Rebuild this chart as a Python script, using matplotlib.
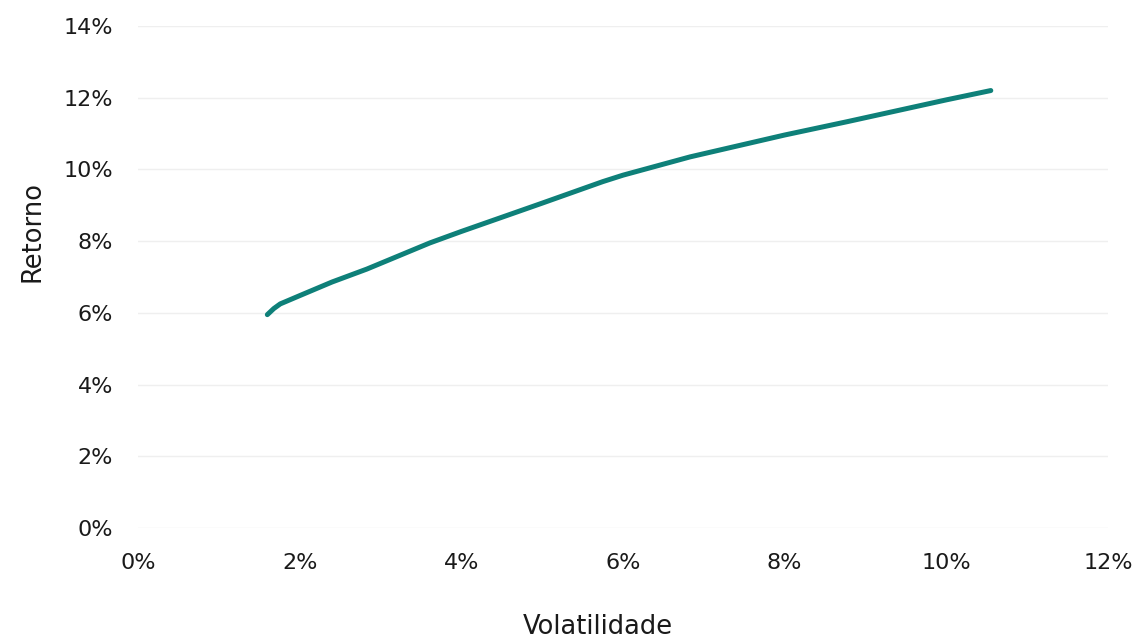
import numpy as np
import matplotlib
matplotlib.use("Agg")
from matplotlib import pyplot as plt
from matplotlib.ticker import FuncFormatter

## data (percent)
volatilidade = [1.60, 1.68, 1.76, 2.00, 2.40, 2.83, 3.61, 4.00, 5.00, 5.75, 6.00, 6.83, 8.00, 8.77, 10.00, 10.55]
retorno = [5.95, 6.12, 6.25, 6.48, 6.86, 7.22, 7.95, 8.27, 9.06, 9.66, 9.84, 10.35, 10.96, 11.33, 11.94, 12.20]

x_ticks = [0, 2, 4, 6, 8, 10, 12]
y_ticks = [0, 2, 4, 6, 8, 10, 12, 14]

line_color = "#0e8079"
grid_color = "#efefef"
text_color = "#1a1a1a"

plt.rcParams["font.family"] = ["DejaVu Sans"]

fig = plt.figure(figsize=(11.35, 6.40), dpi=100)
ax = fig.add_axes([138/1135, 1 - 528/640, (1108-138)/1135, (528-26)/640])

ax.plot(volatilidade, retorno, color=line_color, lw=3.6,
        solid_capstyle="round", solid_joinstyle="round", zorder=3)

ax.set_xlim(0, 12)
ax.set_ylim(0, 14)
ax.set_xticks(x_ticks)
ax.set_yticks(y_ticks)
pct = FuncFormatter(lambda v, p: "%d%%" % v)
ax.xaxis.set_major_formatter(pct)
ax.yaxis.set_major_formatter(pct)

ax.grid(axis="y", color=grid_color, lw=1, zorder=0)
ax.set_axisbelow(True)
for s in ax.spines.values():
  s.set_visible(False)
ax.tick_params(length=0, labelsize=16, labelcolor=text_color)
ax.tick_params(axis="x", pad=18)
ax.tick_params(axis="y", pad=18)

fig.text(598/1135, 1 - 627/640, "Volatilidade", ha="center", va="center",
         fontsize=18.5, color=text_color)
fig.text(32/1135, 1 - 232/640, "Retorno", ha="center", va="center",
         rotation=90, fontsize=18.5, color=text_color)

fig.savefig("out.png", dpi=100)
